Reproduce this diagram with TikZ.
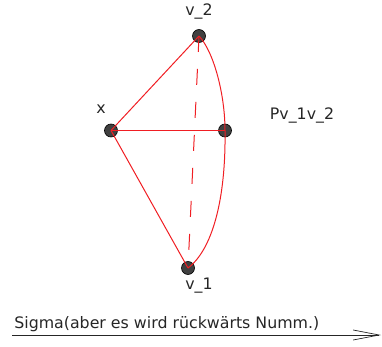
\documentclass[tikz,border=0pt]{standalone}
\usepackage{fontspec}
\setmainfont{DejaVu Sans}
\usetikzlibrary{arrows.meta,positioning}
\definecolor{LineRed}{RGB}{240,30,35}
\definecolor{DotGray}{RGB}{64,64,64}
\tikzset{
  dot/.style={circle,draw=black,fill=DotGray,inner sep=0pt,minimum size=13pt,line width=0.6pt},
  lbl/.style={font=\fontsize{15.8}{16}\selectfont,text=black!85,inner sep=1pt},
  edge/.style={LineRed,line width=1pt}
}
\begin{document}
\begin{tikzpicture}[x=1pt,y=-1pt,>=Latex]
  \useasboundingbox (0,0) rectangle (382,347);
  % vertices
  \node[dot] (v2) at (199,36) {};
  \node[dot] (x) at (111,130.5) {};
  \node[dot] (p) at (225,130.5) {};
  \node[dot] (v1) at (188,268) {};
  \node[lbl] (lv2) at (199,12) {v\_2};
  \node[lbl] (lx) at (101,109) {x};
  \node[lbl] (lp) at (302,116) {Pv\_1v\_2};
  \node[lbl] (lv1) at (199,286) {v\_1};
  % edges
  \draw[edge] (x.center)--(v2.center);
  \draw[edge] (x.center)--(p.center);
  \draw[edge] (x.center)--(v1.center);
  \draw[edge,dash pattern=on 16pt off 17pt] (v2.center)--(v1.center);
  \draw[edge] (v2.center) .. controls (214,52) and (225,95) .. (p.center);
  \draw[edge] (p.center) .. controls (226,200) and (212,250) .. (v1.center);
  % bottom arrow
  \coordinate (s) at (12,335);
  \coordinate (e) at (381,335);
  \draw[black!85,line width=0.7pt,-{Straight Barb[length=26pt,width=10pt]}] (s)--(e)
    node[lbl,pos=0,anchor=south west,xshift=1pt,yshift=2pt] (sig) {Sigma(aber es wird rückwärts Numm.)};
\end{tikzpicture}
\end{document}
